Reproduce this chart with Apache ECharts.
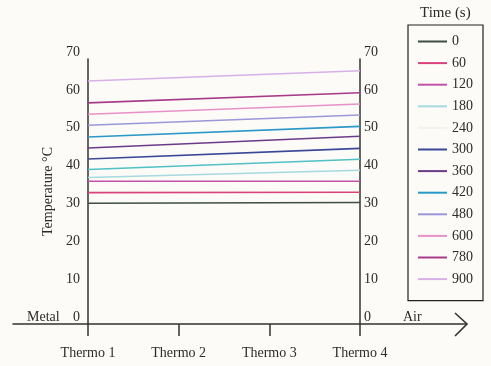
<!DOCTYPE html>
<html>
<head>
<meta charset="utf-8">
<script src="https://cdn.jsdelivr.net/npm/echarts@6/dist/echarts.min.js"></script>
<style>
    html, body { margin: 0; padding: 0; background: #fcfbf7; }
    #chart { width: 491px; height: 366px; }
</style>
</head>
<body>
<div id="chart"></div>
<script>
// thermocouple positions along the wall
var categories = ['Thermo 1', 'Thermo 2', 'Thermo 3', 'Thermo 4'];
var catPos = [1, 2, 3, 4];
var yTicks = [0, 10, 20, 30, 40, 50, 60, 70];

// time steps (s) and temperature read at Thermo 1 and Thermo 4
var times = [0, 60, 120, 180, 240, 300, 360, 420, 480, 600, 780, 900];
var tempThermo1 = [31.9, 34.7, 37.7, 38.7, 40.8, 43.6, 46.5, 49.4, 52.5, 55.4, 58.4, 64.2];
var tempThermo4 = [32.1, 34.8, 37.7, 40.6, 43.5, 46.4, 49.6, 52.2, 55.2, 58.1, 61.1, 66.9];
var colors = ['#3f4d46', '#d8437c', '#c452a8', '#a6d9e0', '#4fc0c4', '#3a4898',
    '#6b3a88', '#2a98c8', '#9a98d8', '#e890c8', '#a83a8a', '#d8b0e8'];

var serif = 'Liberation Serif';
var ink = '#2b2b2b';

var chartDom = document.getElementById('chart');
var myChart = echarts.init(chartDom);
var option;

var series = times.map(function (t, i) {
    return {
        name: String(t),
        type: 'line',
        symbol: 'none',
        silent: true,
        itemStyle: {color: colors[i]},
        lineStyle: {color: colors[i], width: 1.6},
        data: [[catPos[0], tempThermo1[i]], [catPos[3], tempThermo4[i]]]
    };
});

var legendData = times.map(function (t, i) {
    // 240 s entry is almost invisible in the original key
    if (t === 240) {
        return {name: '240', itemStyle: {color: '#f1f4ec'}, lineStyle: {color: '#f1f4ec'}};
    }
    return {name: String(t)};
});

option = {
    backgroundColor: '#fcfbf7',
    animation: false,
    color: colors,
    title: {
        text: 'Time (s)',
        left: 420,
        top: 6,
        padding: 0,
        textStyle: {fontFamily: serif, fontSize: 15, fontWeight: 'normal', color: ink}
    },
    legend: {
        orient: 'vertical',
        left: 408,
        top: 25,
        padding: [9, 10, 14, 10],
        borderColor: '#222',
        borderWidth: 1.2,
        icon: 'rect',
        itemWidth: 29,
        itemHeight: 2,
        itemGap: 6.6,
        selectedMode: false,
        textStyle: {fontFamily: serif, fontSize: 14, color: ink, lineHeight: 15},
        data: legendData
    },
    grid: {
        left: 13,
        right: 25,
        top: 59,
        bottom: 42
    },
    xAxis: {
        type: 'value',
        min: 1 - 75 / 90.667,
        max: 4 + 106 / 90.667,
        splitLine: {show: false},
        axisLine: {show: true, lineStyle: {color: '#333', width: 1.5}},
        axisTick: {
            show: true,
            customValues: catPos,
            length: 12,
            lineStyle: {color: '#333', width: 1.5}
        },
        axisLabel: {
            customValues: catPos,
            margin: 22,
            fontFamily: serif,
            fontSize: 14,
            color: ink,
            formatter: function (v) {
                return categories[catPos.indexOf(v)] || '';
            }
        }
    },
    yAxis: [
        {
            type: 'value',
            position: 'left',
            offset: -75,
            min: 0,
            max: 70,
            interval: 10,
            name: 'Temperature °C',
            nameLocation: 'middle',
            nameRotate: 90,
            nameGap: 27,
            nameTextStyle: {fontFamily: serif, fontSize: 14, color: ink},
            splitLine: {show: false},
            axisTick: {show: false},
            axisLine: {show: true, lineStyle: {color: '#333', width: 1.5}},
            axisLabel: {
                margin: 8,
                fontFamily: serif,
                fontSize: 14,
                color: ink,
                verticalAlign: 'bottom',
                customValues: yTicks
            }
        },
        {
            type: 'value',
            position: 'right',
            offset: -106,
            min: 0,
            max: 70,
            interval: 10,
            splitLine: {show: false},
            axisTick: {show: false},
            axisLine: {show: true, lineStyle: {color: '#333', width: 1.5}},
            axisLabel: {
                margin: 4,
                fontFamily: serif,
                fontSize: 14,
                color: ink,
                verticalAlign: 'bottom',
                customValues: yTicks
            }
        }
    ],
    graphic: [
        {
            type: 'text',
            left: 27,
            top: 310,
            style: {text: 'Metal', font: '14px "Liberation Serif"', fill: ink}
        },
        {
            type: 'text',
            left: 403,
            top: 310,
            style: {text: 'Air', font: '14px "Liberation Serif"', fill: ink}
        },
        {
            // open arrow head at the end of the wall axis
            type: 'polyline',
            shape: {points: [[455, 313], [467, 324], [455, 336]]},
            style: {stroke: '#333', lineWidth: 1.6, fill: null}
        }
    ],
    series: series
};

option && myChart.setOption(option);
</script>
</body>
</html>
